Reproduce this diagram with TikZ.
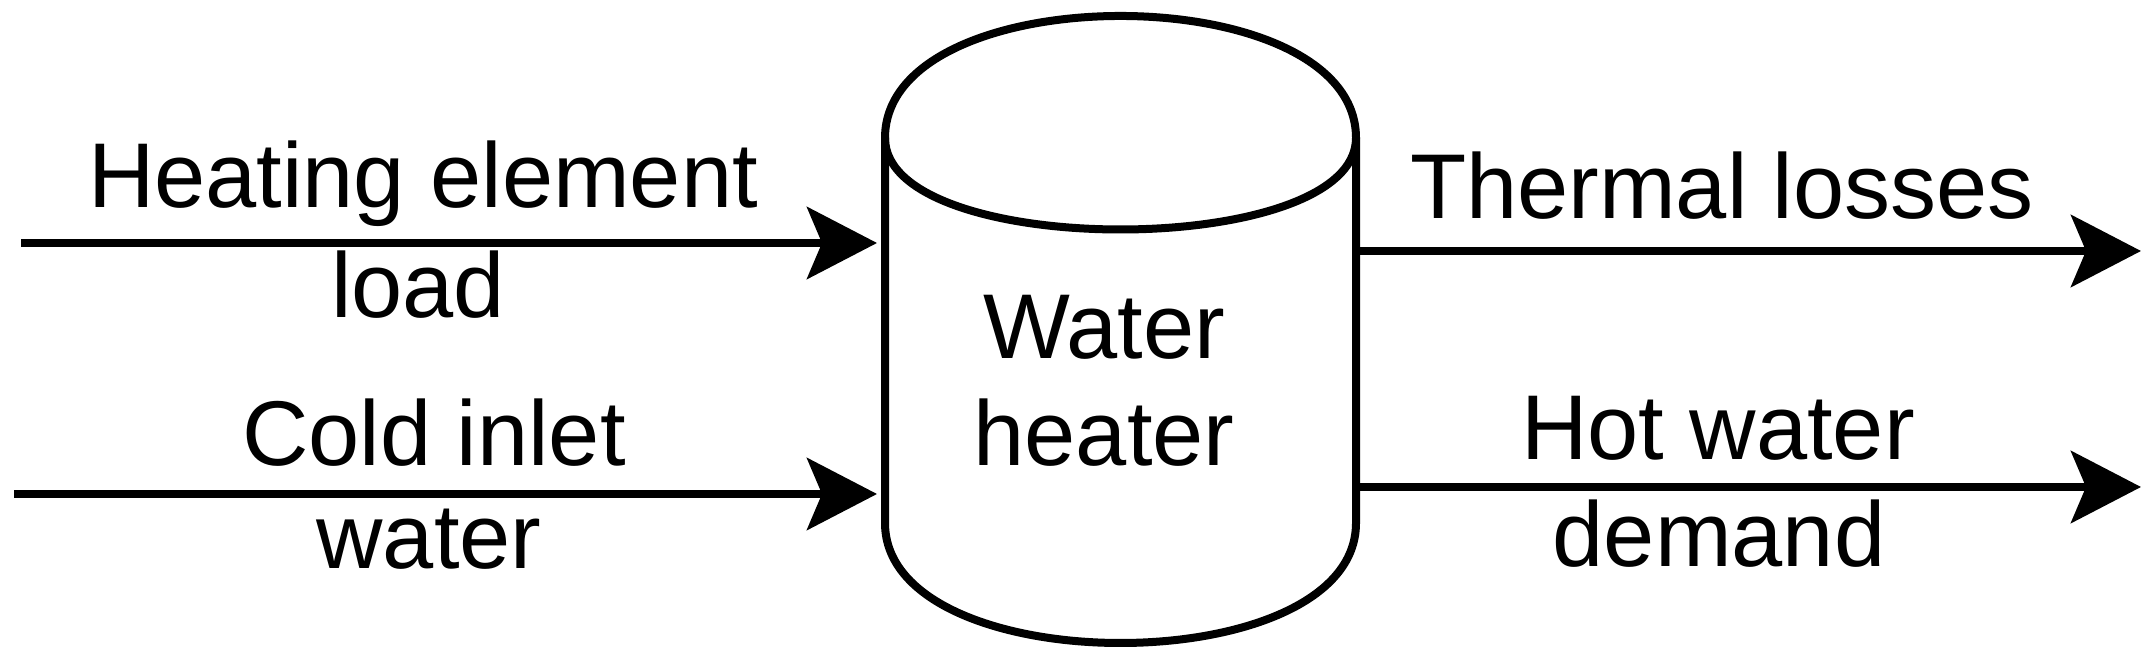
\documentclass[tikz,border=0pt]{standalone}
\usepackage{fontspec}
\setmainfont{Liberation Sans}
\usetikzlibrary{arrows.meta}
\begin{document}
\begin{tikzpicture}[x=0.5pt,y=-0.5pt,
  line width=4pt,
  lbl/.style={anchor=base, inner sep=0pt, font=\fontsize{46}{55}\selectfont},
  flow/.style={-{Stealth[length=35pt,width=36pt,inset=7.5pt]}},
  tank/.style={draw=none, inner sep=0pt, minimum width=235.5pt, minimum height=313.5pt}]
\useasboundingbox (0,0) rectangle (2151,656);
% cylinder outline
\draw[line join=round] (885,138) .. controls (885,-24.7) and (1356,-24.7) .. (1356,138)
  -- (1356,523) .. controls (1356,683) and (885,683) .. (885,523) -- cycle;
\draw (885,138) .. controls (885,260) and (1356,260) .. (1356,138);
\node[tank] (wh) at (1120.5,329.5) {};
\node[lbl] (t1) at (1104,359) {Water};
\node[lbl] (t2) at (1104,466) {heater};
% free ends
\coordinate (a1) at (21,243);
\coordinate (a2) at (14,494);
\coordinate (b1) at (2141,251);
\coordinate (b2) at (2141,487);
% connectors
\draw[flow, shorten >=2pt] (a1) -- (a1 -| wh.west);
\draw[flow, shorten >=2pt] (a2) -- (a2 -| wh.west);
\draw[flow] (b1 -| wh.east) -- (b1);
\draw[flow] (b2 -| wh.east) -- (b2);
% labels
\node[lbl] (la1) at (423,208) {Heating element};
\node[lbl] (la2) at (418,318) {load};
\node[lbl] (lb1) at (434,466) {Cold inlet};
\node[lbl] (lb2) at (429,569) {water};
\node[lbl] (lc1) at (1722,219) {Thermal losses};
\node[lbl] (ld1) at (1718,460) {Hot water};
\node[lbl] (ld2) at (1719,567) {demand};
\end{tikzpicture}
\end{document}
